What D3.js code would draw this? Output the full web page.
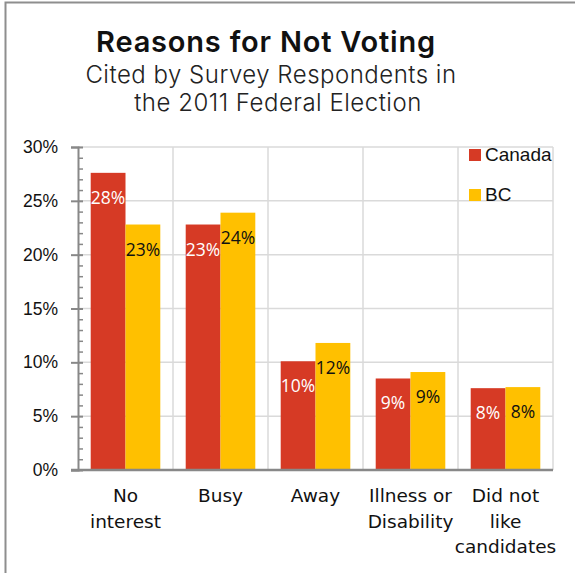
<!DOCTYPE html>
<html>
<head>
<meta charset="utf-8">
<script src="https://cdn.jsdelivr.net/npm/d3@7"></script>
<style>
  body { margin: 0; background: #fff; }
  svg { display: block; }
</style>
</head>
<body>
<script>
// data
var categories = ['No interest', 'Busy', 'Away', 'Illness or Disability', 'Did not like candidates'];
var categoryLines = [['No', 'interest'], ['Busy'], ['Away'], ['Illness or', 'Disability'], ['Did not', 'like', 'candidates']];
var seriesNames = ['Canada', 'BC'];
var canada = [27.6, 22.8, 10.1, 8.5, 7.6];
var bc = [22.8, 23.9, 11.8, 9.1, 7.7];
var yTicks = [0, 5, 10, 15, 20, 25, 30];

var colors = { Canada: '#d63a25', BC: '#ffc000' };

var W = 575, H = 573;
var plot = { left: 78, right: 553, top: 147, bottom: 470 };

var svg = d3.select('body')
	.append('svg')
	.attr('width', W)
	.attr('height', H);

// frame
svg.append('path')
	.attr('d', 'M5.5,' + H + 'V2.5H' + W)
	.attr('fill', 'none')
	.attr('stroke', '#8e8e8e')
	.attr('stroke-width', 2);

// titles
svg.append('text')
	.attr('x', 266).attr('y', 52)
	.attr('text-anchor', 'middle')
	.style('font-family', 'Inter, "Noto Sans", sans-serif')
	.style('font-weight', 600)
	.style('font-size', '29px')
	.style('letter-spacing', '0.8px')
	.attr('fill', '#111')
	.text('Reasons for Not Voting');

var sub = ['Cited by Survey Respondents in', 'the 2011 Federal Election'];
var subX = [271, 278];
svg.selectAll('text.sub')
	.data(sub)
	.enter()
	.append('text')
	.attr('class', 'sub')
	.attr('x', function (d, i) { return subX[i]; })
	.attr('y', function (d, i) { return 83 + i * 27.5; })
	.attr('text-anchor', 'middle')
	.style('font-family', 'Inter, "Noto Sans", sans-serif')
	.style('font-weight', 300)
	.style('font-size', '24px')
	.style('letter-spacing', '0.5px')
	.attr('fill', '#222')
	.text(function (d) { return d; });

// scales
var x0 = d3.scaleBand().domain(categories).range([plot.left, plot.right]).padding(0);
var x1 = d3.scaleBand().domain(seriesNames).range([0, x0.bandwidth()]).paddingInner(0).paddingOuter(0.365);
var y = d3.scaleLinear().domain([0, 30]).range([plot.bottom, plot.top]);

// grid
var grid = svg.append('g').attr('class', 'grid');
grid.selectAll('line.h')
	.data(yTicks.filter(function (d) { return d > 0; }))
	.enter()
	.append('line')
	.attr('x1', plot.left).attr('x2', plot.right)
	.attr('y1', function (d) { return y(d); })
	.attr('y2', function (d) { return y(d); })
	.attr('stroke', '#dadada')
	.attr('stroke-width', 1.5);
grid.selectAll('line.v')
	.data(categories)
	.enter()
	.append('line')
	.attr('x1', function (d) { return x0(d) + x0.bandwidth(); })
	.attr('x2', function (d) { return x0(d) + x0.bandwidth(); })
	.attr('y1', plot.top).attr('y2', plot.bottom)
	.attr('stroke', '#dadada')
	.attr('stroke-width', 1.5);

// bars
var rows = categories.map(function (c, i) {
	return { cat: c, values: [{ key: 'Canada', v: canada[i] }, { key: 'BC', v: bc[i] }] };
});

var groups = svg.selectAll('g.cat')
	.data(rows)
	.enter()
	.append('g')
	.attr('class', 'cat')
	.attr('transform', function (d) { return 'translate(' + x0(d.cat) + ',0)'; });

groups.selectAll('rect')
	.data(function (d) { return d.values; })
	.enter()
	.append('rect')
	.attr('x', function (d) { return x1(d.key); })
	.attr('y', function (d) { return y(d.v); })
	.attr('width', x1.bandwidth())
	.attr('height', function (d) { return y(0) - y(d.v); })
	.attr('fill', function (d) { return colors[d.key]; });

groups.selectAll('text')
	.data(function (d) { return d.values; })
	.enter()
	.append('text')
	.attr('x', function (d) { return x1(d.key) + x1.bandwidth() / 2; })
	.attr('y', function (d) { return y(d.v) + 31; })
	.attr('text-anchor', 'middle')
	.style('font-family', '"Open Sans", sans-serif')
	.style('font-size', '17.5px')
	.attr('fill', function (d) { return d.key == 'Canada' ? '#fff' : '#111'; })
	.text(function (d) { return Math.round(d.v) + '%'; });

// axes
var yAxis = svg.append('g')
	.attr('transform', 'translate(' + plot.left + ',0)')
	.call(d3.axisLeft(y).tickValues(yTicks).tickSize(7).tickPadding(13).tickFormat(function (d) { return d + '%'; }));
yAxis.select('.domain').attr('stroke', '#888').attr('stroke-width', 2);
yAxis.selectAll('.tick line').attr('x1', 5).attr('stroke', '#888').attr('stroke-width', 2);
yAxis.selectAll('.tick text')
	.style('font-family', '"Liberation Sans", Arial, sans-serif')
	.style('font-size', '17.5px')
	.attr('fill', '#111');

var minor = d3.range(0, 31).filter(function (d) { return d % 5 != 0; });
var yMinor = svg.append('g')
	.attr('transform', 'translate(' + plot.left + ',0)')
	.call(d3.axisRight(y).tickValues(minor).tickSize(5).tickFormat(''));
yMinor.select('.domain').remove();
yMinor.selectAll('.tick line').attr('stroke', '#888').attr('stroke-width', 1.5);

svg.append('line')
	.attr('x1', plot.left - 7).attr('x2', plot.right)
	.attr('y1', y(0)).attr('y2', y(0))
	.attr('stroke', '#888')
	.attr('stroke-width', 2.5);

// category labels
svg.selectAll('text.catlabel')
	.data(categories)
	.enter()
	.append('text')
	.attr('class', 'catlabel')
	.attr('text-anchor', 'middle')
	.style('font-family', '"DejaVu Sans", sans-serif')
	.style('font-size', '18.5px')
	.attr('fill', '#111')
	.each(function (d, i) {
		var t = d3.select(this);
		categoryLines[i].forEach(function (line, j) {
			t.append('tspan')
				.attr('x', x0(d) + x0.bandwidth() / 2)
				.attr('y', 502 + j * 25.5)
				.text(line);
		});
	});

// legend
var legend = svg.selectAll('g.legend')
	.data(seriesNames)
	.enter()
	.append('g')
	.attr('class', 'legend')
	.attr('transform', function (d, i) { return 'translate(469,' + (149 + i * 40) + ')'; });
legend.append('rect')
	.attr('width', 12).attr('height', 12)
	.attr('fill', function (d) { return colors[d]; });
legend.append('text')
	.attr('x', 16).attr('y', 12)
	.style('font-family', '"Liberation Sans", Arial, sans-serif')
	.style('font-size', '19px')
	.attr('fill', '#111')
	.text(function (d) { return d; });
</script>
</body>
</html>
